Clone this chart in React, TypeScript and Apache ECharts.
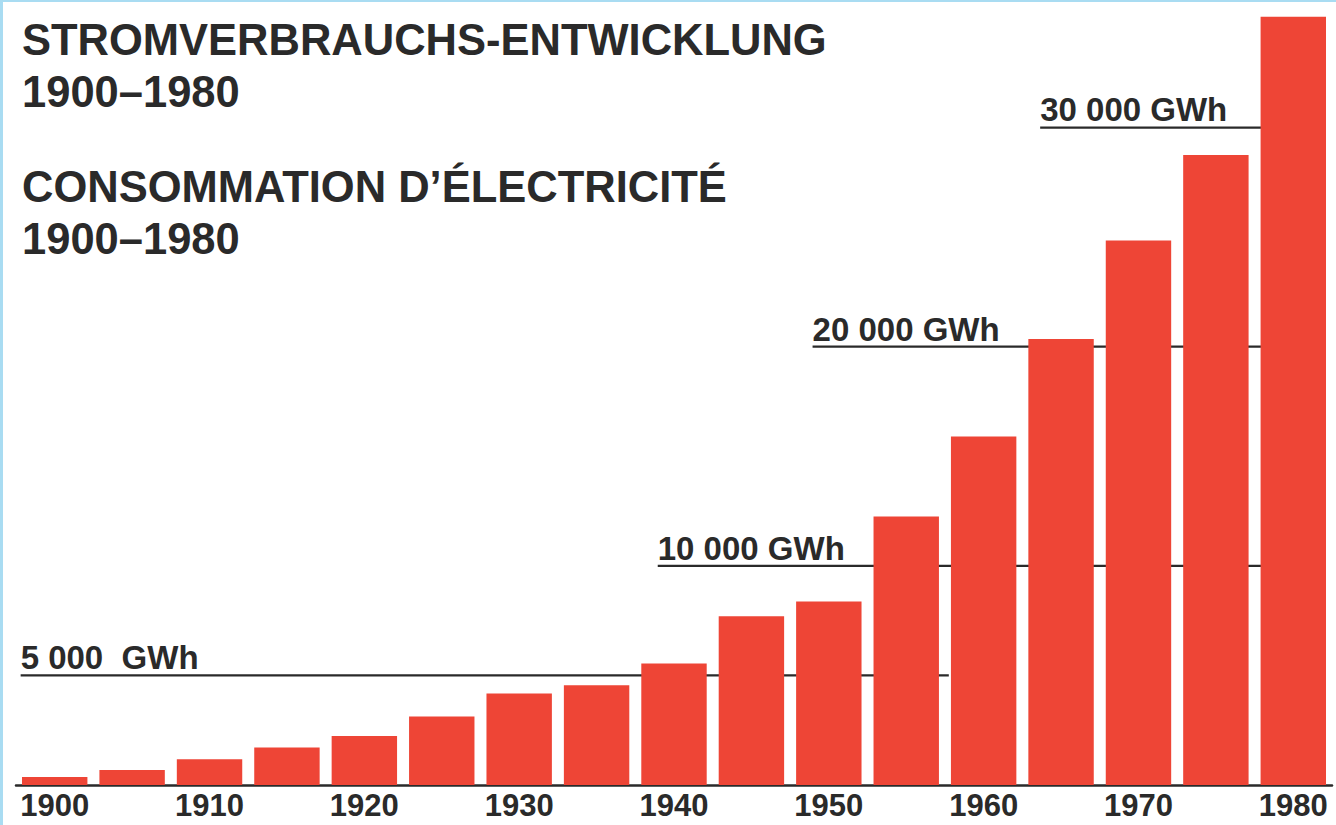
import React, { useEffect, useRef } from "react";
import * as echarts from "echarts";

const years = ["1900", "1905", "1910", "1915", "1920", "1925", "1930", "1935", "1940", "1945", "1950", "1955", "1960", "1965", "1970", "1975", "1980"];
const consumptionGWh = [360, 690, 1170, 1710, 2240, 3120, 4170, 4550, 5540, 7700, 8370, 12250, 15900, 20350, 24850, 28750, 35050];

const refValues = [5000, 10000, 20000, 30000];
const refLabels = ["5 000  GWh", "10 000 GWh", "20 000 GWh", "30 000 GWh"];
// extent of each reference line, in bar slots (0 = first bar)
const refFrom = [-0.44, 7.79, 9.79, 12.73];
const refTo = [11.55, 15.6, 15.6, 15.6];

const titleDE = "STROMVERBRAUCHS-ENTWICKLUNG\n1900–1980";
const titleFR = "CONSOMMATION D’ÉLECTRICITÉ\n1900–1980";

const INK = "#2a2a2a";
const RED = "#ee4536";
const FONT = "'Liberation Sans', Arial, Helvetica, sans-serif";

export default function App() {
  const ref = useRef<HTMLDivElement>(null);
  useEffect(() => {
    if (!ref.current) return;
    const chart = echarts.init(ref.current, null, { renderer: "svg" });

    const refSeries = refValues.map((v, i) => ({
      type: "line",
      xAxisIndex: 1,
      yAxisIndex: 0,
      z: 1,
      silent: true,
      symbol: "circle",
      symbolSize: 0.1,
      showSymbol: true,
      itemStyle: { color: "rgba(0,0,0,0)" },
      lineStyle: { color: INK, width: 2.2 },
      data: [
        {
          value: [refFrom[i], v],
          label: {
            show: true,
            formatter: refLabels[i],
            position: "top",
            align: "left",
            verticalAlign: "bottom",
            distance: 1,
            color: INK,
            fontFamily: FONT,
            fontSize: 33,
            fontWeight: "bold",
          },
        },
        { value: [refTo[i], v] },
      ],
    }));

    const titleStyle = { fontFamily: FONT, fontSize: 43.5, lineHeight: 52, fontWeight: "bold", color: INK };

    chart.setOption({
      animation: false,
      backgroundColor: "#ffffff",
      title: [
        { text: titleDE, left: 17, top: 9, textStyle: titleStyle },
        { text: titleFR, left: 17, top: 156, textStyle: titleStyle },
      ],
      grid: { left: 16, right: 4, top: 7, bottom: 40, containLabel: false },
      xAxis: [
        {
          type: "category",
          data: years,
          boundaryGap: true,
          axisLine: { show: true, lineStyle: { color: INK, width: 2.5 } },
          axisTick: { show: false },
          axisLabel: {
            interval: 1,
            margin: 5,
            color: INK,
            fontFamily: FONT,
            fontSize: 31,
            fontWeight: "bold",
          },
          splitLine: { show: false },
        },
        {
          type: "value",
          show: false,
          min: -0.5,
          max: 16.5,
          position: "bottom",
          splitLine: { show: false },
        },
      ],
      yAxis: {
        type: "value",
        min: 0,
        max: 35500,
        show: false,
        splitLine: { show: false },
      },
      series: [
        ...refSeries,
        {
          type: "bar",
          xAxisIndex: 0,
          yAxisIndex: 0,
          z: 2,
          data: consumptionGWh,
          barCategoryGap: "15.5%",
          itemStyle: { color: RED },
        },
      ],
      graphic: [
        { type: "rect", left: 0, top: 0, shape: { width: 3, height: 825 }, style: { fill: "#a9dcf2" }, silent: true },
        { type: "rect", left: 0, top: 0, shape: { width: 1336, height: 2 }, style: { fill: "#a9dcf2" }, silent: true },
      ],
    });
    return () => chart.dispose();
  }, []);
  return <div ref={ref} style={{ position: "fixed", left: 0, top: 0, width: 1336, height: 825 }} />;
}
